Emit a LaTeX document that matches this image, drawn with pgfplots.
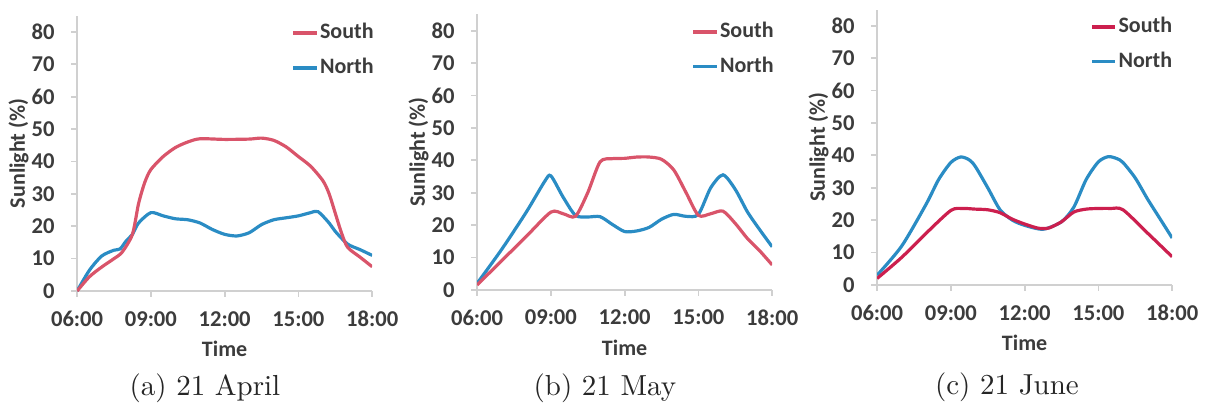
\documentclass[border=0pt]{standalone}
\usepackage{fontspec}
\usepackage{pgfplots}
\pgfplotsset{compat=1.18}
\newfontfamily\carlito{Carlito}
\definecolor{southA}{HTML}{D9546A}
\definecolor{southC}{HTML}{CC1F4E}
\definecolor{northC}{HTML}{2A8CC4}
\definecolor{axgray}{HTML}{D0D0D0}
\definecolor{txt}{HTML}{3C3C3C}

\pgfplotsset{
  panel/.style={
    scale only axis, width=101.8pt, height=95pt,
    xmin=6, xmax=18, ymin=0, ymax=85,
    axis x line*=bottom, axis y line*=left,
    axis line style={draw=axgray, line width=0.7pt},
    xtick={6,9,12,15,18},
    xticklabels={06:00,09:00,12:00,15:00,18:00},
    ytick={0,10,20,30,40,50,60,70,80},
    tick align=outside, major tick length=2pt,
    tick style={draw=axgray, line width=0.6pt},
    /pgf/number format/assume math mode=true,
    tick label style={font=\carlito\bfseries\fontsize{7.8}{9}\selectfont, text=txt},
    yticklabel style={anchor=east, inner sep=0pt, xshift=-5.6pt},
    xticklabel style={anchor=north, inner sep=0pt, yshift=-4.8pt},
    xlabel={Time}, ylabel={Sunlight (\%)},
    label style={font=\carlito\bfseries\fontsize{7.6}{9}\selectfont, text=txt},
    xlabel style={at={(axis description cs:0.5,-0.21)}, anchor=center},
    ylabel style={at={(axis description cs:-0.198,0.5)}, anchor=center},
    legend style={draw=none, fill=none, at={(axis description cs:0.725,1)}, anchor=north west,
      yshift=-2pt, inner sep=0pt, row sep=4pt,
      font=\carlito\bfseries\fontsize{7.6}{9}\selectfont, text=txt,
      nodes={inner sep=0.5pt}},
    legend cell align=left,
    legend image code/.code={\draw[#1, line width=1.3pt] (0pt,0pt) -- (8pt,0pt);},
    reverse legend,
    every axis plot/.append style={smooth, tension=0.45, line width=1.1pt, no marks},
  }
}

\begin{document}
\begin{tikzpicture}
\useasboundingbox (0,0) rectangle (416.07pt,140.4pt);

% (a) 21 April
\begin{axis}[panel, at={(26.6pt,40.0pt)}, anchor=origin]
\addplot[northC] coordinates {(6,0) (6.5,6.4) (7,10.8) (7.5,12.6) (7.75,13) (8,15.5) (8.25,17.5) (8.5,21) (9,24.2) (9.5,23.2) (10,22.3) (10.5,22) (11,21) (11.5,19) (12,17.5) (12.5,17) (13,18) (13.5,20.5) (14,22) (14.5,22.6) (15,23.2) (15.5,24.2) (15.8,24.5) (16.25,21) (16.5,18.4) (17,14.5) (17.5,12.8) (18,11)};
\addlegendentry{North}
\addplot[southA] coordinates {(6,0) (6.5,4.4) (7,7.4) (7.5,10) (7.83,12) (8.25,17.5) (8.5,27) (8.75,33.5) (9,37.5) (9.5,41.5) (10,44.3) (10.5,46) (11,47) (12,46.8) (13,46.9) (13.5,47.2) (14,46.5) (14.5,44.5) (15,41.5) (15.5,38.5) (16,34) (16.25,30) (16.5,24) (16.75,18) (17,13.5) (17.5,10.5) (18,7.5)};
\addlegendentry{South}
\end{axis}

% (b) 21 May
\begin{axis}[panel, at={(164.6pt,40.4pt)}, anchor=origin]
\addplot[northC] coordinates {(6,2) (7,12.5) (8,24) (8.75,33.5) (9,35.2) (9.5,28.6) (10,23) (10.5,22.5) (11,22.6) (11.5,20.2) (12,18) (12.5,18.2) (13,19.3) (13.5,21.8) (14,23.3) (14.5,22.7) (15,23.3) (15.5,31.5) (16,35.5) (16.5,31) (17,24) (17.5,18.5) (18,13.3)};
\addlegendentry{North}
\addplot[southA] coordinates {(6,1.5) (7,9) (8,16.5) (9,24) (9.5,23.5) (10,22.7) (10.5,30) (11,39.5) (11.5,40.5) (12,40.6) (12.5,41) (13,41) (13.5,40.3) (14,37) (14.5,30) (15,23) (15.5,23.5) (16,24.3) (16.5,20.5) (17,15.8) (17.5,12) (18,7.7)};
\addlegendentry{South}
\end{axis}

% (c) 21 June
\begin{axis}[panel, at={(302.6pt,42.1pt)}, anchor=origin, legend style={at={(axis description cs:0.72,1)}}]
\addplot[northC] coordinates {(6,3) (7,12) (8,25) (8.5,32.5) (9,37.8) (9.4,39.5) (9.75,38.6) (10,36.5) (10.5,30) (11,23.2) (11.5,20) (12,18.4) (12.75,17.2) (13.5,19.5) (14,24) (14.5,32.5) (15,38) (15.4,39.6) (15.75,39) (16,37.8) (16.5,33) (17,26.5) (17.5,20.5) (18,14.5)};
\addlegendentry{North}
\addplot[southC] coordinates {(6,2) (7,8.5) (8,16) (9,23) (9.5,23.6) (10,23.4) (10.5,23.2) (11,22.3) (11.5,20.3) (12,18.8) (12.5,17.6) (12.75,17.4) (13,17.6) (13.5,19.5) (14,22.5) (14.5,23.4) (15,23.6) (15.5,23.6) (16,23.2) (17,16) (18,8.7)};
\addlegendentry{South}
\end{axis}

\node[font=\fontsize{10}{12}\selectfont, text=black!85] at (70.7pt,6.6pt) {(a) 21 April};
\node[font=\fontsize{10}{12}\selectfont, text=black!85] at (208.7pt,6.6pt) {(b) 21 May};
\node[font=\fontsize{10}{12}\selectfont, text=black!85] at (347.4pt,6.9pt) {(c) 21 June};
\end{tikzpicture}
\end{document}
